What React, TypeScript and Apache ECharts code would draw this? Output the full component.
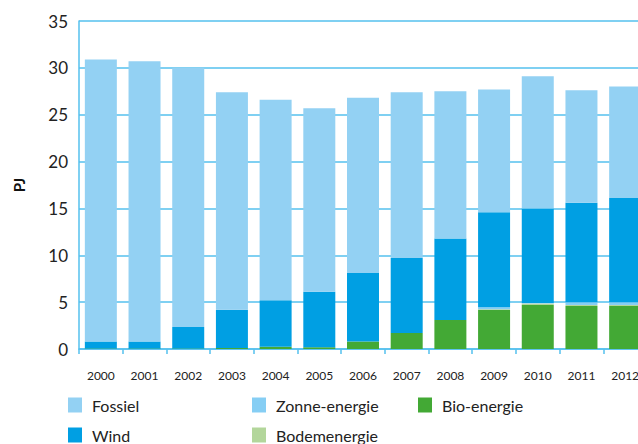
import React, { useEffect, useRef } from "react";
import * as echarts from "echarts";

const years = ["2000","2001","2002","2003","2004","2005","2006","2007","2008","2009","2010","2011","2012"];
const bio = [0.05, 0.05, 0.05, 0.1, 0.25, 0.2, 0.8, 1.7, 3.1, 4.2, 4.7, 4.6, 4.6];
const bodem = [0, 0, 0, 0, 0, 0, 0, 0, 0, 0.05, 0.15, 0.1, 0.1];
const zonne = [0, 0, 0, 0, 0, 0, 0, 0, 0, 0.2, 0.05, 0.3, 0.3];
const wind = [0.75, 0.75, 2.3, 4.1, 4.95, 5.9, 7.3, 8.0, 8.7, 10.15, 10.1, 10.6, 11.1];
const fossiel = [30.1, 29.9, 27.65, 23.2, 21.4, 19.6, 18.7, 17.7, 15.7, 13.1, 14.1, 12.0, 11.9];
const yTicks = { min: 0, max: 35, interval: 5 };

const FONT = "Lato, 'Open Sans', sans-serif";
const C = {
  fossiel: "#93d1f3",
  zonne: "#86cef4",
  wind: "#009fe3",
  bio: "#43a935",
  bodem: "#b3d69b",
  grid: "#55c0ee",
};

export default function App() {
  const ref = useRef<HTMLDivElement>(null);
  useEffect(() => {
    if (!ref.current) return;
    const chart = echarts.init(ref.current, undefined, { renderer: "svg" });
    const mk = (name: string, data: number[], color: string) => ({
      name,
      type: "bar",
      stack: "total",
      data,
      barWidth: 32,
      itemStyle: { color },
      emphasis: { disabled: true },
    });
    const lg = (name: string, left: number, top: number) => ({
      data: [name],
      left,
      top,
      itemWidth: 14,
      itemHeight: 15,
      selectedMode: false,
      icon: "rect",
      padding: 0,
      textStyle: { fontFamily: FONT, fontSize: 16, color: "#222", padding: [0, 0, 0, 5] },
    });
    chart.setOption({
      animation: false,
      textStyle: { fontFamily: FONT },
      grid: { left: 79, top: 21, width: 568, height: 328, containLabel: false },
      legend: [
        lg("Fossiel", 68, 397),
        lg("Wind", 68, 427),
        lg("Zonne-energie", 252, 397),
        lg("Bodemenergie", 252, 427),
        lg("Bio-energie", 418, 397),
      ],
      xAxis: {
        type: "category",
        data: years,
        axisLine: { lineStyle: { color: C.grid, width: 1.5 } },
        axisTick: { show: true, length: 5, lineStyle: { color: C.grid, width: 1.5 } },
        axisLabel: { fontFamily: FONT, fontSize: 12, color: "#222", margin: 20 },
      },
      yAxis: {
        type: "value",
        min: yTicks.min,
        max: yTicks.max,
        interval: yTicks.interval,
        name: "PJ",
        nameLocation: "middle",
        nameRotate: 90,
        nameGap: 53,
        nameTextStyle: { fontFamily: FONT, fontSize: 15, fontWeight: "bold", color: "#111" },
        axisLine: { show: true, lineStyle: { color: C.grid, width: 1.5 } },
        axisTick: { show: false },
        splitLine: { lineStyle: { color: C.grid, width: 1.5 } },
        axisLabel: { fontFamily: FONT, fontSize: 17, color: "#222", margin: 11 },
      },
      series: [
        mk("Bio-energie", bio, C.bio),
        mk("Bodemenergie", bodem, C.bodem),
        mk("Zonne-energie", zonne, C.zonne),
        mk("Wind", wind, C.wind),
        mk("Fossiel", fossiel, C.fossiel),
      ],
    });
    return () => chart.dispose();
  }, []);
  return (
    <div style={{ width: 638, height: 444, position: "absolute", left: 0, top: 0, overflow: "hidden" }}>
      <div ref={ref} style={{ width: 680, height: 444 }} />
    </div>
  );
}
